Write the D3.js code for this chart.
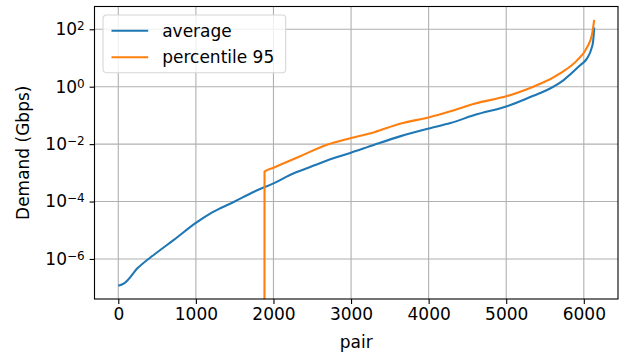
<!DOCTYPE html>
<html>
<head>
<meta charset="utf-8">
<script src="https://cdn.jsdelivr.net/npm/d3@7"></script>
<style>
  body { margin: 0; background: #fff; }
  svg { display: block; font-family: "DejaVu Sans", sans-serif; }
  .axis path, .axis line { stroke: #000; stroke-width: 1.1; }
  .axis text { fill: #000; font-size: 17px; font-family: "DejaVu Sans", sans-serif; }
  .grid line { stroke: #b0b0b0; stroke-width: 1.1; }
</style>
</head>
<body>
<div class="chart"></div>
<script>
// values
const avgPair = [0, 80, 250, 460, 720, 1000, 1200, 1500, 1750, 2000, 2270, 2390, 2690, 2990,
  3300, 3630, 4020, 4280, 4600, 5010, 5350, 5440, 5740, 5950, 6040, 6100, 6120, 6134];
const avgValue = [1.17e-7, 1.45e-7, 4.8e-7, 1.4e-6, 4.7e-6, 1.8e-5, 4.0e-5, 1.0e-4, 2.2e-4, 4.3e-4,
  9.8e-4, 1.3e-3, 2.7e-3, 4.9e-3, 9.5e-3, 0.0186, 0.036, 0.054, 0.105, 0.21, 0.48, 0.60, 1.7, 5.5,
  9.5, 22, 38, 115];

// percentile 95 is zero for the first pairs (drawn below the axis on log scale)
const p95Pair = [1884, 1885, 2000, 2345, 2690, 2990, 3300, 3630, 4020, 4280, 4600, 5010, 5350,
  5440, 5700, 5910, 6040, 6105, 6134];
const p95Value = [0, 1.1e-3, 1.5e-3, 3.8e-3, 9.5e-3, 0.016, 0.026, 0.051, 0.088, 0.14, 0.26, 0.47,
  1.0, 1.26, 3.0, 8.1, 23, 65, 214];

const seriesNames = ["average", "percentile 95"];
const seriesColors = ["#1f77b4", "#ff7f0e"];
const xTicks = [0, 1000, 2000, 3000, 4000, 5000, 6000];
const yTicks = [1e-6, 1e-4, 1e-2, 1, 1e2];

function Charting() {
  const margin = {top: 6.5, right: 7, bottom: 60, left: 94.5};
  const width = 625 - margin.left - margin.right,
    height = 359 - margin.top - margin.bottom;

  const avg = avgPair.map((p, i) => ({x: p, v: avgValue[i]}));
  const p95 = p95Pair.map((p, i) => ({x: p, v: p95Value[i]}));
  const series = [avg, p95];

  const svgRoot = d3.select(".chart").append("svg")
    .attr("width", 625)
    .attr("height", 359);

  const svg = svgRoot.append("g")
    .attr("transform", "translate(" + margin.left + "," + margin.top + ")");

  // matplotlib-like 5% margins
  const xmin = d3.min(avgPair);
  const xmax = d3.max(series, s => d3.max(s, d => d.x));
  const xpad = (xmax - xmin) * 0.05;
  const xScale = d3.scaleLinear()
    .domain([xmin - xpad, xmax + xpad])
    .range([0, width]);

  const positive = series.flat().filter(d => d.v > 0).map(d => Math.log10(d.v));
  const lmin = d3.min(positive), lmax = d3.max(positive);
  const lpad = (lmax - lmin) * 0.05;
  const yScale = d3.scaleLog()
    .domain([Math.pow(10, lmin - lpad), Math.pow(10, lmax + lpad)])
    .range([height, 0]);

  // grid
  const grid = svg.append("g").attr("class", "grid");
  grid.selectAll(".gx").data(xTicks).enter().append("line")
    .attr("x1", d => xScale(d)).attr("x2", d => xScale(d))
    .attr("y1", 0).attr("y2", height);
  grid.selectAll(".gy").data(yTicks).enter().append("line")
    .attr("x1", 0).attr("x2", width)
    .attr("y1", d => yScale(d)).attr("y2", d => yScale(d));

  svg.append("clipPath").attr("id", "clip")
    .append("rect").attr("width", width).attr("height", height);

  const line = d3.line()
    .curve(d3.curveMonotoneX)
    .x(d => xScale(d.x))
    .y(d => d.v > 0 ? yScale(d.v) : height + 20);

  svg.append("g").attr("clip-path", "url(#clip)")
    .selectAll("path")
    .data(series)
    .enter()
    .append("path")
    .attr("d", line)
    .attr("fill", "none")
    .attr("stroke", (d, i) => seriesColors[i])
    .attr("stroke-width", 2.1)
    .attr("stroke-linejoin", "round");

  const xAxis = d3.axisBottom(xScale)
    .tickValues(xTicks)
    .tickFormat(d3.format("d"))
    .tickSize(4.9)
    .tickPadding(4.5)
    .tickSizeOuter(0);

  const yAxis = d3.axisLeft(yScale)
    .tickValues(yTicks)
    .tickFormat("")
    .tickSize(4.9)
    .tickPadding(4.9)
    .tickSizeOuter(0);

  svg.append("g")
    .attr("class", "axis x-axis")
    .attr("transform", `translate(0, ${height})`)
    .call(xAxis)
    .select(".domain").remove();

  const ya = svg.append("g")
    .attr("class", "axis y-axis")
    .call(yAxis);
  ya.select(".domain").remove();
  ya.selectAll(".tick text").each(function(d) {
    const e = Math.round(Math.log10(d));
    const t = d3.select(this);
    t.append("tspan").text("10");
    t.append("tspan")
      .attr("dy", "-0.42em")
      .attr("font-size", "12px")
      .text(e < 0 ? "\u2212" + (-e) : String(e));
  });

  // frame
  svg.append("rect")
    .attr("width", width).attr("height", height)
    .attr("fill", "none").attr("stroke", "#000").attr("stroke-width", 1.1);

  svg.append("text")
    .attr("x", width / 2)
    .attr("y", height + 49)
    .attr("text-anchor", "middle")
    .attr("font-size", "17px")
    .text("pair");

  svg.append("text")
    .attr("transform", `translate(${23 - margin.left + 6}, ${height / 2}) rotate(-90)`)
    .attr("text-anchor", "middle")
    .attr("font-size", "17px")
    .text("Demand (Gbps)");

  // legend
  const legend = svg.append("g").attr("transform", "translate(8.5, 8.5)");
  legend.append("rect")
    .attr("width", 182.7).attr("height", 57.7)
    .attr("rx", 3.4)
    .attr("fill", "#fff").attr("fill-opacity", 0.8)
    .attr("stroke", "#d6d6d6").attr("stroke-width", 1.1);
  const items = legend.selectAll(".item").data(seriesNames).enter().append("g")
    .attr("transform", (d, i) => `translate(0, ${15.7 + i * 26.6})`);
  items.append("line")
    .attr("x1", 8.5).attr("x2", 45.2)
    .attr("stroke", (d, i) => seriesColors[i])
    .attr("stroke-width", 2.1);
  items.append("text")
    .attr("x", 59.2)
    .attr("y", 6)
    .attr("font-size", "17px")
    .text(d => d);
}

Charting();
</script>
</body>
</html>
